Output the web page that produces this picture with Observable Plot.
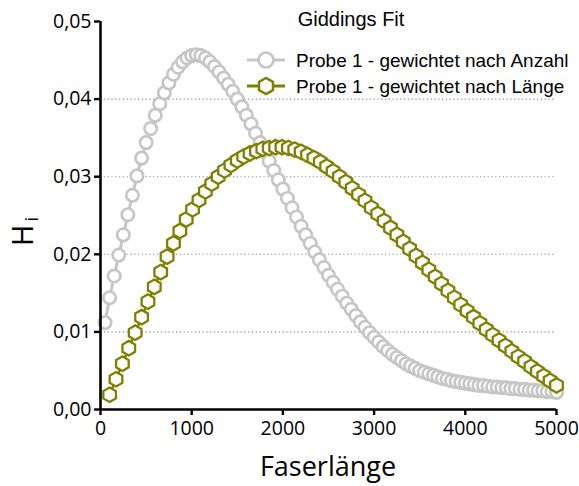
<!DOCTYPE html>
<html>
<head>
<meta charset="utf-8">
<script src="https://cdn.jsdelivr.net/npm/d3@7"></script>
<script src="https://cdn.jsdelivr.net/npm/@observablehq/plot@0.6"></script>
<style>
  html, body { margin: 0; padding: 0; background: white; }
  #chart { width: 579px; height: 486px; }
</style>
</head>
<body>
<div id="chart"></div>
<script>
// ---- Data ----
const titleText = "Giddings Fit";
const seriesNames = ["Probe 1 - gewichtet nach Anzahl", "Probe 1 - gewichtet nach Länge"];
const xTicks = [0, 1000, 2000, 3000, 4000, 5000];
const yTicks = [0, 0.01, 0.02, 0.03, 0.04, 0.05];
const gridTicks = [0.01, 0.02, 0.03, 0.04];

// Series 1 (Anzahl): x positions and values
const anzahlX = [50,100,150,200,250,300,350,400,450,500,550,600,650,700,750,800,850,900,950,1000,
  1050,1100,1150,1200,1250,1300,1350,1400,1450,1500,1550,1600,1650,1700,1750,1800,1850,1900,1950,2000,
  2050,2100,2150,2200,2250,2300,2350,2400,2450,2500,2550,2600,2650,2700,2750,2800,2850,2900,2950,3000,
  3050,3100,3150,3200,3250,3300,3350,3400,3450,3500,3550,3600,3650,3700,3750,3800,3850,3900,3950,4000,
  4050,4100,4150,4200,4250,4300,4350,4400,4450,4500,4550,4600,4650,4700,4750,4800,4850,4900,4950,5000];
const anzahlY = [0.0112,0.0144,0.0172,0.0199,0.0225,0.0251,0.0276,0.0301,0.0324,0.0344,
  0.0362,0.0379,0.0394,0.0408,0.0421,0.0432,0.0441,0.0448,0.0453,0.0456,
  0.0457,0.0456,0.0453,0.0448,0.0442,0.0435,0.0427,0.0419,0.0410,0.0400,
  0.0390,0.0379,0.0368,0.0356,0.0344,0.0332,0.0320,0.0308,0.0296,0.0284,
  0.0272,0.0260,0.0248,0.0236,0.0225,0.0214,0.0203,0.0193,0.0183,0.0173,
  0.0164,0.0155,0.0146,0.0137,0.0129,0.0121,0.0113,0.0106,0.0099,0.0093,
  0.0087,0.0081,0.0076,0.0071,0.0067,0.0063,0.0059,0.0056,0.0053,0.0050,
  0.0048,0.0046,0.0044,0.0042,0.0040,0.0039,0.0037,0.0036,0.0035,0.0034,
  0.0033,0.0032,0.0031,0.0031,0.0030,0.0029,0.0029,0.0028,0.0028,0.0027,
  0.0027,0.0026,0.0026,0.0025,0.0025,0.0024,0.0024,0.0023,0.0023,0.0022];

// Series 2 (Länge): x positions and values
const laengeX = [100,170,240,310,380,450,520,590,660,730,800,870,940,1010,1080,1150,1220,1290,1360,1430,
  1500,1570,1640,1710,1780,1850,1920,1990,2060,2130,2200,2270,2340,2410,2480,2550,2620,2690,2760,2830,
  2900,2970,3040,3110,3180,3250,3320,3390,3460,3530,3600,3670,3740,3810,3880,3950,4020,4090,4160,4230,
  4300,4370,4440,4510,4580,4650,4720,4790,4860,4930,5000];
const laengeY = [0.0019,0.0039,0.0059,0.0079,0.0099,0.0119,0.0139,0.0158,0.0177,0.0197,
  0.0214,0.0230,0.0245,0.0258,0.0270,0.0281,0.0291,0.0300,0.0308,0.0315,
  0.0321,0.0326,0.0330,0.0333,0.0336,0.0337,0.0338,0.0338,0.0337,0.0335,
  0.0332,0.0328,0.0324,0.0319,0.0313,0.0307,0.0300,0.0293,0.0285,0.0277,
  0.0269,0.0260,0.0252,0.0243,0.0234,0.0225,0.0216,0.0207,0.0198,0.0189,
  0.0180,0.0171,0.0162,0.0153,0.0144,0.0135,0.0127,0.0119,0.0111,0.0103,
  0.0096,0.0089,0.0082,0.0075,0.0068,0.0062,0.0055,0.0049,0.0043,0.0037,0.0031];

const grayColor = "#c6c6c6";
const oliveColor = "#808000";

const anzahl = anzahlX.map((x, i) => ({x, y: anzahlY[i]}));
const laenge = laengeX.map((x, i) => ({x, y: laengeY[i]}));

const fmtY = d => d.toFixed(2).replace(".", ",");
const font = "'Open Sans', sans-serif";

const chart = Plot.plot({
  width: 579,
  height: 486,
  marginLeft: 100,
  marginRight: 23,
  marginTop: 21,
  marginBottom: 77,
  style: {fontFamily: font, fontSize: "19px", color: "black", background: "white", overflow: "visible"},
  x: {domain: [0, 5000], label: null},
  y: {domain: [0, 0.05], label: null},
  marks: [
    Plot.ruleY(gridTicks, {stroke: "#8a8a8a", strokeWidth: 1.1, strokeDasharray: "1.2,2.6"}),
    Plot.axisX({ticks: xTicks, tickFormat: d => String(d), tickSize: 6, tickPadding: 6, strokeWidth: 2.4, fontSize: 19.5, stroke: "black"}),
    Plot.axisY({ticks: yTicks, tickFormat: fmtY, tickSize: 6, tickPadding: 3, strokeWidth: 2.4, fontSize: 19.5, stroke: "black"}),
    Plot.line(anzahl, {x: "x", y: "y", stroke: grayColor, strokeWidth: 3}),
    Plot.dot(anzahl, {x: "x", y: "y", r: 6.2, stroke: grayColor, fill: "white", strokeWidth: 2.7}),
    Plot.line(laenge, {x: "x", y: "y", stroke: oliveColor, strokeWidth: 2.6}),
    Plot.dot(laenge, {x: "x", y: "y", r: 6.3, symbol: "hexagon", stroke: oliveColor, fill: "white", strokeWidth: 2.3}),
    Plot.ruleX([0], {y1: 0, y2: 0.05, stroke: "black", strokeWidth: 2.6}),
    Plot.ruleY([0], {x1: 0, x2: 5000, stroke: "black", strokeWidth: 2.6})
  ]
});

document.getElementById("chart").appendChild(chart);

// ---- Titles and legend (text) ----
const svg = d3.select(chart);

// y-axis title "H" with subscript "i"
const yt = svg.append("text")
  .attr("transform", "translate(33,246) rotate(-90)")
  .attr("text-anchor", "start")
  .attr("fill", "black")
  .style("font-family", font);
yt.append("tspan").attr("font-size", 29).text("H");
yt.append("tspan").attr("font-size", 18).attr("dx", 3).attr("dy", 5).text("i");

// x-axis title
svg.append("text")
  .attr("x", 328).attr("y", 476)
  .attr("text-anchor", "middle")
  .attr("fill", "black")
  .attr("font-size", 27)
  .style("font-family", font)
  .text("Faserlänge");

// legend
const lg = svg.append("g").style("font-family", "'Liberation Sans', Arial, sans-serif");
lg.append("text").attr("x", 351).attr("y", 26).attr("text-anchor", "middle")
  .attr("font-size", 20).attr("fill", "black").text(titleText);

const rows = [
  {y: 60, color: grayColor, circle: true, sw: 3, name: seriesNames[0]},
  {y: 86, color: oliveColor, circle: false, sw: 2.8, name: seriesNames[1]}
];
rows.forEach(r => {
  lg.append("line").attr("x1", 247).attr("x2", 285).attr("y1", r.y).attr("y2", r.y)
    .attr("stroke", r.color).attr("stroke-width", r.sw);
  if (r.circle) {
    lg.append("circle").attr("cx", 266).attr("cy", r.y).attr("r", 7.5)
      .attr("fill", "white").attr("stroke", r.color).attr("stroke-width", 2.7);
  } else {
    const rx = 7, ry = rx * 2 / Math.sqrt(3), hy = ry / 2;
    const pts = [[0, ry], [rx, hy], [rx, -hy], [0, -ry], [-rx, -hy], [-rx, hy]]
      .map(p => [266 + p[0], r.y + p[1]].join(",")).join(" ");
    lg.append("polygon").attr("points", pts)
      .attr("fill", "white").attr("stroke", r.color).attr("stroke-width", 2.5);
  }
  lg.append("text").attr("x", 296).attr("y", r.y + 7).attr("text-anchor", "start")
    .attr("font-size", 19).attr("fill", "black").text(r.name);
});
</script>
</body>
</html>
